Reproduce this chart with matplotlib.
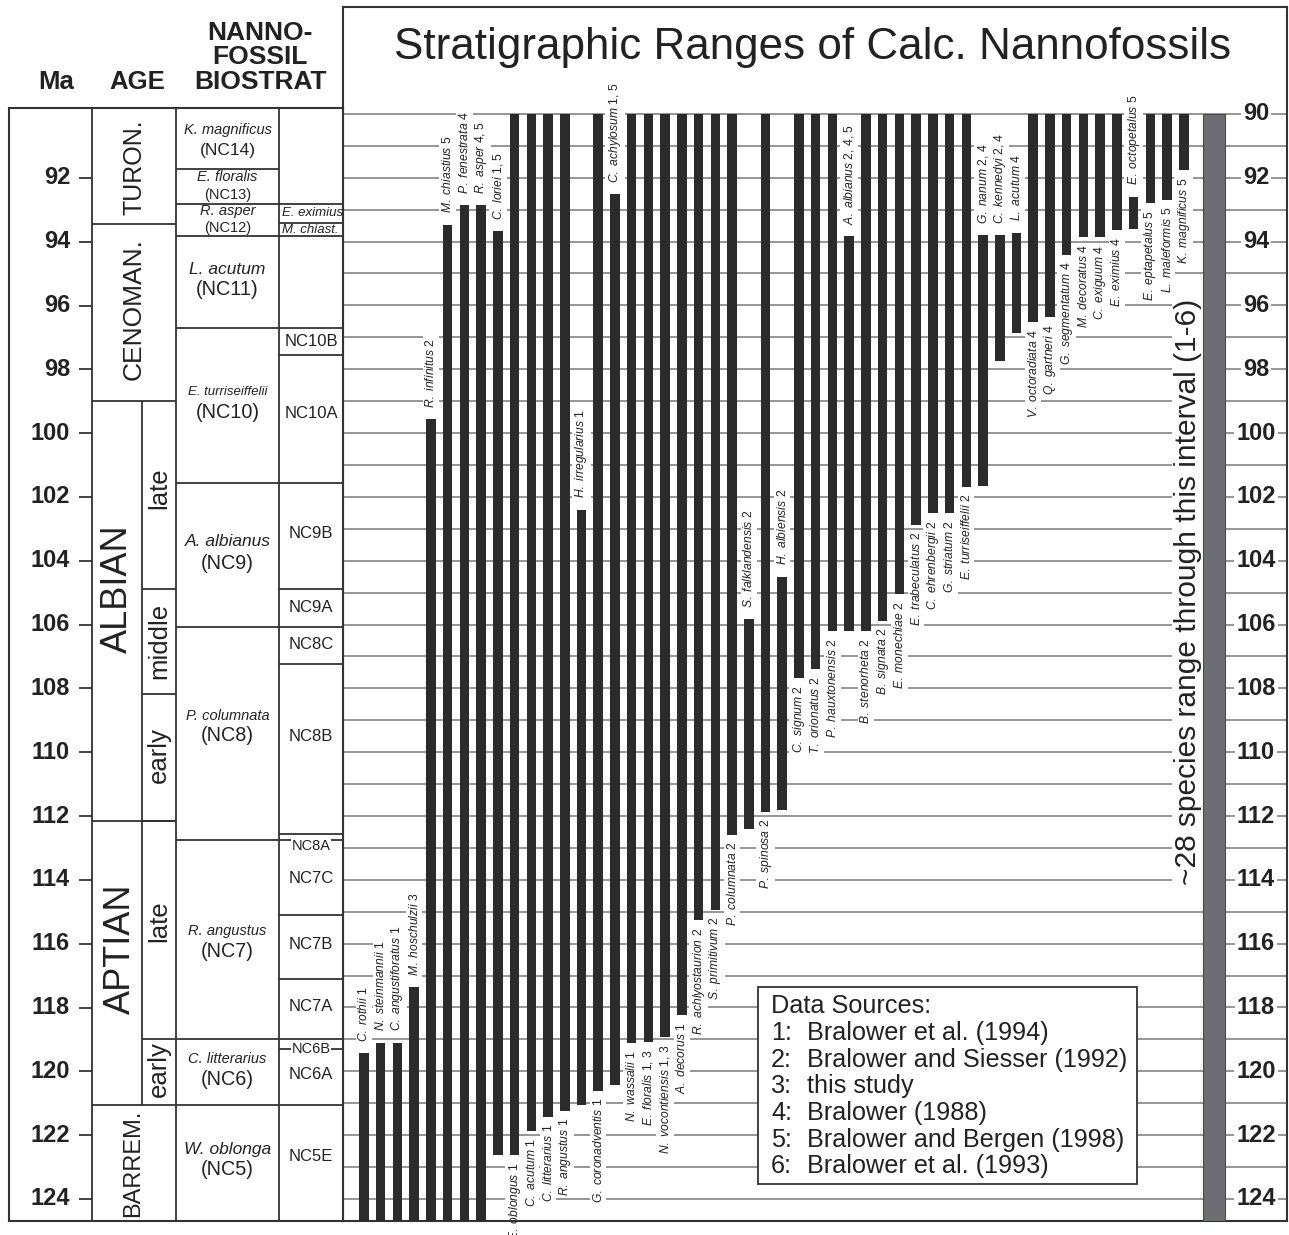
import matplotlib
matplotlib.use("Agg")
import matplotlib.pyplot as plt
from matplotlib.patches import Rectangle

plt.rcParams['font.family'] = ['Liberation Sans', 'DejaVu Sans']
plt.rcParams['mathtext.fontset'] = 'custom'
plt.rcParams['mathtext.it'] = 'Liberation Sans:italic'
plt.rcParams['mathtext.rm'] = 'Liberation Sans'

# ---------------- species ranges (Ma) ----------------
BASE = 125.0  # ranges that continue below the base of the section
species = [
    "C. rothii", "N. steinmannii", "C. angustiforatus", "M. hoschulzii",
    "R. infinitus", "M. chiastius", "P. fenestrata", "R. asper", "C. loriei",
    "E. oblongus", "C. acutum", "C. litterarius", "R. angustus",
    "H. irregularius", "G. coronadventis", "C. achylosum", "N. wassalii",
    "E. floralis", "N. vocontiensis", "A. decorus", "R. achlyostaurion",
    "S. primitivum", "P. columnata", "S. falklandensis", "P. spinosa",
    "H. albiensis", "C. signum", "T. orionatus", "P. hauxtonensis",
    "A. albianus", "B. stenorheta", "B. signata", "E. monechiae",
    "E. trabeculatus", "C. ehrenbergii", "G. striatum", "E. turriseiffelii",
    "G. nanum", "C. kennedyi", "L. acutum", "V. octoradiata", "Q. gartneri",
    "G. segmentatum", "M. decoratus", "C. exiguum", "E. eximius",
    "E. octopetalus", "E. eptapetalus", "L. maleformis", "K. magnificus",
]
sources = [
    "1", "1", "1", "3", "2", "5", "4", "4, 5", "1, 5",
    "1", "1", "1", "1", "1", "1", "1, 5", "1",
    "1, 3", "1, 3", "1", "2", "2", "2", "2", "2",
    "2", "2", "2", "2", "2, 4, 5", "2", "2", "2",
    "2", "2", "2", "2", "2, 4", "2, 4", "4", "4", "4",
    "4", "4", "4", "4", "5", "5", "5", "5",
]
young = [
    119.42, 119.10, 119.10, 117.37, 99.55, 93.47, 92.85, 92.85, 93.68,
    90.0, 90.0, 90.0, 90.0, 102.40, 90.0, 92.50, 90.0,
    90.0, 90.0, 90.0, 90.0, 90.0, 90.0, 105.83, 90.0,
    104.50, 90.0, 90.0, 90.0, 93.84, 90.0, 90.0, 90.0,
    90.0, 90.0, 90.0, 90.0, 93.79, 93.79, 93.72, 90.0, 90.0,
    90.0, 90.0, 90.0, 90.0, 92.59, 90.0, 90.0, 90.0,
]
old = [
    BASE, BASE, BASE, BASE, BASE, BASE, BASE, BASE, 122.62,
    122.62, 121.88, 121.43, 121.25, 121.04, 120.61, 120.44, 119.12,
    119.07, 118.93, 118.23, 115.27, 114.93, 112.60, 112.41, 111.86,
    111.82, 107.67, 107.40, 106.21, 106.21, 106.21, 105.88, 105.05,
    102.88, 102.50, 102.50, 101.68, 101.67, 97.73, 96.85, 96.53, 96.35,
    94.42, 93.87, 93.87, 93.63, 93.61, 92.78, 92.69, 91.76,
]
label_at = [
    "top", "top", "top", "top", "top", "top", "top", "top", "top",
    "bot", "bot", "bot", "bot", "top", "bot", "top", "bot",
    "bot", "bot", "bot", "bot", "bot", "bot", "top", "bot",
    "top", "bot", "bot", "bot", "top", "bot", "bot", "bot",
    "bot", "bot", "bot", "bot", "top", "top", "top", "bot", "bot",
    "bot", "bot", "bot", "bot", "top", "bot", "bot", "bot",
]

ref_list = [
    "Bralower et al. (1994)",
    "Bralower and Siesser (1992)",
    "this study",
    "Bralower (1988)",
    "Bralower and Bergen (1998)",
    "Bralower et al. (1993)",
]

# ---------------- stratigraphic framework (Ma) ----------------
stage_names = ["TURON.", "CENOMAN.", "ALBIAN", "APTIAN", "BARREM."]
stage_bounds = [93.43, 98.98, 112.14, 121.04]
stage_label_y = [91.68, 96.10, 104.88, 116.15, 122.88]

substage_names = ["late", "middle", "early", "late", "early"]
substage_bounds = [104.89, 108.18, 112.14, 118.98]
substage_label_y = [101.71, 106.50, 110.10, 115.29, 119.94]

zone_species = ["K. magnificus", "E. floralis", "R. asper", "L. acutum",
                "E. turriseiffelii", "A. albianus", "P. columnata",
                "R. angustus", "C. litterarius", "W. oblonga"]
zone_codes = ["(NC14)", "(NC13)", "(NC12)", "(NC11)", "(NC10)", "(NC9)",
              "(NC8)", "(NC7)", "(NC6)", "(NC5)"]
zone_bounds = [91.71, 92.82, 93.82, 96.72, 101.56, 106.06, 112.76, 118.98, 121.04]
zone_name_y = [90.49, 91.98, 93.04, 94.86, 98.70, 103.41, 108.85, 115.61, 119.62, 122.45]
zone_code_y = [91.15, 92.55, 93.57, 95.50, 99.34, 104.08, 109.47, 116.25, 120.26, 123.09]

subzone_names = ["E. eximius", "M. chiast.", "NC10B", "NC10A", "NC9B", "NC9A",
                 "NC8C", "NC8B", "NC8A", "NC7C", "NC7B", "NC7A", "NC6B",
                 "NC6A", "NC5E"]
subzone_label_y = [93.11, 93.64, 97.12, 99.39, 103.15, 105.47, 106.61, 109.52,
                   112.94, 113.95, 116.04, 117.96, 119.30, 120.10, 122.66]
subzone_bounds = [92.82, 93.41, 93.82, 96.72, 97.54, 101.56, 104.89, 106.06,
                  107.23, 112.56, 112.76, 115.11, 117.11, 118.98, 119.30, 121.04]

ma_ticks = list(range(92, 125, 2))
right_ticks = list(range(90, 125, 2))

# ---------------- figure layout ----------------
W, H = 1289, 1235
fig = plt.figure(figsize=(W / 100, H / 100), dpi=100)


def rect(x0, y0, x1, y1):
    return [x0 / W, 1 - y1 / H, (x1 - x0) / W, (y1 - y0) / H]


INK = "#222222"
LINE = "#333333"
GRID = "#8e8e8e"
BAR = "#2b2b2b"

# ---------------- range chart ----------------
ax = fig.add_axes(rect(343, 7, 1287, 1221))
ax.set_xlim(-1.255, 55.17)
ax.set_ylim(124.69, 86.65)
ax.set_xticks([])
ax.set_yticks([])
for s in ax.spines.values():
    s.set_color(LINE)
    s.set_linewidth(1.5)

for m in range(90, 125):
    ax.axhline(m, color=GRID, lw=1.3, zorder=1)

xs = list(range(len(species)))
heights = [o - y for y, o in zip(young, old)]
ax.bar(xs, heights, bottom=young, width=0.57, color=BAR, zorder=3)

for i, (name, src, y, o, side) in enumerate(zip(species, sources, young, old, label_at)):
    txt = r"$\mathit{" + name.replace(" ", r"\ ") + "}$ " + src
    if side == "top":
        ax.text(i, y - 0.35, txt, rotation=90, ha="center", va="bottom",
                fontsize=8.7, color=INK, zorder=2,
                bbox=dict(fc="white", ec="none", pad=1.2))
    else:
        ax.text(i, o + 0.22, txt, rotation=90, ha="center", va="top",
                fontsize=8.7, color=INK, zorder=2,
                bbox=dict(fc="white", ec="none", pad=1.2))

# species ranging through the whole interval
ax.bar([50.8], [BASE - 90.0], bottom=[90.0], width=1.3, color="#6d6e71",
       edgecolor="#4a4a4a", lw=0.8, zorder=3)
ax.text(49.25, 104.98, "~28 species range through this interval (1-6)",
        rotation=90, ha="center", va="center", fontsize=21.5, color=INK,
        zorder=2, bbox=dict(fc="white", ec="none", pad=1))

for m in right_ticks:
    ax.text(53.32, m, str(m), ha="center", va="center", fontsize=17,
            fontweight="bold", color=INK, zorder=2,
            bbox=dict(fc="white", ec="none", pad=1.5))

# data-source key
ax.add_patch(Rectangle((23.55, 117.37), 22.65, 6.16, fc="white", ec=LINE,
                       lw=1.3, zorder=4))
ax.text(24.33, 117.94, "Data Sources:", ha="left", va="center", fontsize=18.2,
        color=INK, zorder=5)
for k, ref in enumerate(ref_list):
    yk = 118.81 + k * 0.832
    ax.text(24.33, yk, f"{k + 1}:", ha="left", va="center", fontsize=18.2,
            color=INK, zorder=5)
    ax.text(26.48, yk, ref, ha="left", va="center", fontsize=18.2,
            color=INK, zorder=5)

fig.text(813 / W, 1 - 47 / H, "Stratigraphic Ranges of Calc. Nannofossils",
         ha="center", va="center", fontsize=31.7, color=INK)

# ---------------- stratigraphic columns ----------------
axl = fig.add_axes(rect(9, 108, 343, 1221))
axl.set_xlim(9, 343)
axl.set_ylim(124.69, 89.81)
axl.set_xticks([])
axl.set_yticks([])
for s in axl.spines.values():
    s.set_color(LINE)
    s.set_linewidth(1.5)

X_MA, X_SUB, X_ZONE, X_SUBZ, X_END = 92, 142, 176, 279, 343
X_AGE0 = 92
for xv in (X_AGE0, X_ZONE, X_SUBZ):
    axl.axvline(xv, color=LINE, lw=1.3)
axl.vlines(X_SUB, stage_bounds[1], stage_bounds[3], color=LINE, lw=1.3)

axl.hlines(stage_bounds, X_AGE0, X_ZONE, color=LINE, lw=1.3)
axl.hlines(substage_bounds, X_SUB, X_ZONE, color=LINE, lw=1.3)
axl.hlines(zone_bounds, X_ZONE, X_SUBZ, color=LINE, lw=1.3)
axl.hlines(subzone_bounds, X_SUBZ, X_END, color=LINE, lw=1.3)

for m in ma_ticks:
    axl.hlines(m, 79, X_MA, color=LINE, lw=1.3)
    axl.text(70, m, str(m), ha="right", va="center", fontsize=17,
             fontweight="bold", color=INK)

stage_x = [134, 134, 117, 120, 133]
stage_size = [18, 19, 26, 26, 17]
for name, yv, xv, fs in zip(stage_names, stage_label_y, stage_x, stage_size):
    axl.text(xv, yv, name, rotation=90, ha="center", va="center", fontsize=fs,
             color=INK)
for name, yv in zip(substage_names, substage_label_y):
    axl.text(159, yv, name, rotation=90, ha="center", va="center",
             fontsize=18.5, color=INK)

name_size = [10.5, 10.5, 10.5, 12.5, 9.5, 12.5, 10.5, 10.5, 10.5, 12.5]
code_size = [12.5, 10.5, 10.5, 14.3, 14.3, 14.3, 14.3, 14.3, 14.3, 14.3]
for nm, cd, yn, yc, fn, fc in zip(zone_species, zone_codes, zone_name_y,
                                  zone_code_y, name_size, code_size):
    axl.text(227.5, yn, nm, ha="center", va="center", fontsize=fn,
             fontstyle="italic", color=INK)
    axl.text(227.5, yc, cd, ha="center", va="center", fontsize=fc,
             color=INK)

for nm, yv in zip(subzone_names, subzone_label_y):
    if nm.startswith("NC"):
        small = nm in ("NC8A", "NC6B")
        axl.text(311, yv, nm, ha="center", va="center",
                 fontsize=10.5 if small else 12, color=INK,
                 bbox=dict(fc="white", ec="none", pad=0.6) if small else None)
    else:
        axl.text(282, yv, nm, ha="left", va="center", fontsize=9.5,
                 fontstyle="italic", color=INK)

# column headings
fig.text(56 / W, 1 - 82 / H, "Ma", ha="center", va="center", fontsize=18.5,
         fontweight="bold", color=INK)
fig.text(137 / W, 1 - 82 / H, "AGE", ha="center", va="center", fontsize=18.5,
         fontweight="bold", color=INK)
for line, yp in zip(["NANNO-", "FOSSIL", "BIOSTRAT"], [33, 57, 82]):
    fig.text(260 / W, 1 - yp / H, line, ha="center", va="center", fontsize=19,
             fontweight="bold", color=INK)

fig.savefig("out.png", dpi=100, facecolor="white")
